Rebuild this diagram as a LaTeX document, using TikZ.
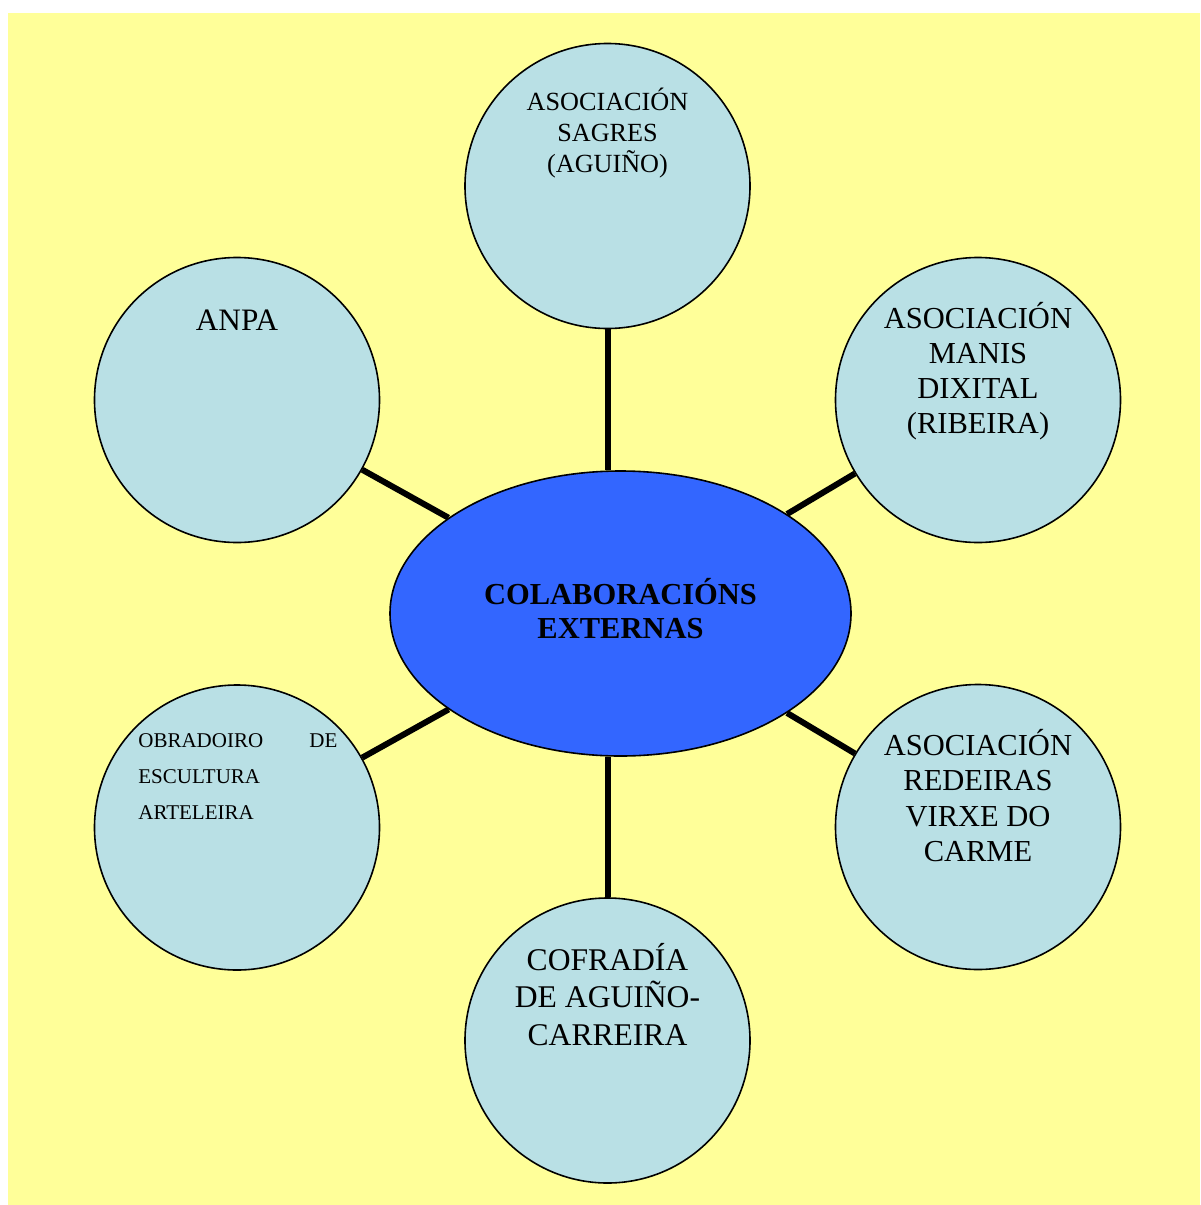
\documentclass[tikz,border=0pt]{standalone}
\usepackage{fontspec}
\setmainfont{Liberation Serif}
\usetikzlibrary{shapes.geometric}
\definecolor{bgyellow}{HTML}{FFFF99}
\definecolor{circblue}{HTML}{B9E0E5}
\definecolor{hubblue}{HTML}{3366FF}
\pgfdeclarelayer{back}
\pgfdeclarelayer{lines}
\pgfsetlayers{back,lines,main}
\tikzset{
  orgcirc/.style={circle, draw=black, line width=0.8pt, fill=circblue, minimum size=142.5pt, inner sep=0pt},
  hubshape/.style={ellipse, draw=black, line width=0.8pt, fill=hubblue, minimum width=230.5pt, minimum height=142.5pt, inner sep=0pt},
  link/.style={line width=3pt, draw=black},
  lbl/.style={anchor=base, inner sep=0pt, text=black}
}
\newcommand{\lines}[3]{{\fontsize{#1}{#2}\selectfont\begin{tabular}[t]{@{}c@{}}#3\end{tabular}}}
\begin{document}
\begin{tikzpicture}[x=0.5pt,y=-0.5pt]
\useasboundingbox (0,0) rectangle (1200,1205);
\begin{pgfonlayer}{back}
\fill[bgyellow] (8,13) rectangle (1200,1205);
\end{pgfonlayer}

\node[hubshape] (hub) at (620.5,613.5) {};
\node[orgcirc] (sagres) at (607.5,186) {};
\node[orgcirc] (anpa) at (237,400) {};
\node[orgcirc] (manis) at (978,400) {};
\node[orgcirc] (obradoiro) at (237,827.5) {};
\node[orgcirc] (redeiras) at (978,827) {};
\node[orgcirc] (cofradia) at (607.5,1040.5) {};

\begin{pgfonlayer}{lines}
\draw[link] (sagres.south) -- (sagres.south |- hub.north);
\draw[link] (cofradia.north) -- (cofradia.north |- hub.south);
\draw[link] (hub) -- (anpa);
\draw[link] (hub) -- (manis);
\draw[link] (hub) -- (obradoiro);
\draw[link] (hub) -- (redeiras);
\end{pgfonlayer}

\node[lbl] (hubtext) at (620.5,604) {\lines{15.25pt}{17pt}{\bfseries COLABORACIÓNS\\\bfseries EXTERNAS}};
\node[lbl] (sagrestext) at (607.5,110) {\lines{13.1pt}{15.5pt}{ASOCIACIÓN\\SAGRES\\(AGUIÑO)}};
\node[lbl] (anpatext) at (237,330) {\lines{15.6pt}{18pt}{ANPA}};
\node[lbl] (manistext) at (978,328) {\lines{15.25pt}{17.5pt}{ASOCIACIÓN\\MANIS\\DIXITAL\\(RIBEIRA)}};
\node[lbl] (redeirastext) at (978,755) {\lines{15.25pt}{17.75pt}{ASOCIACIÓN\\REDEIRAS\\VIRXE DO\\CARME}};
\node[lbl] (cofradiatext) at (607.5,970) {\lines{15.8pt}{18.75pt}{COFRADÍA\\DE AGUIÑO-\\CARREIRA}};
\node[anchor=base west, inner sep=0pt] (obradoirotext) at (138,747) {{\fontsize{10.5pt}{18pt}\selectfont\begin{tabular*}{99.5pt}[t]{@{}l@{\extracolsep{\fill}}r@{}}OBRADOIRO & DE\\ESCULTURA & \\ARTELEIRA & \end{tabular*}}};
\end{tikzpicture}
\end{document}
